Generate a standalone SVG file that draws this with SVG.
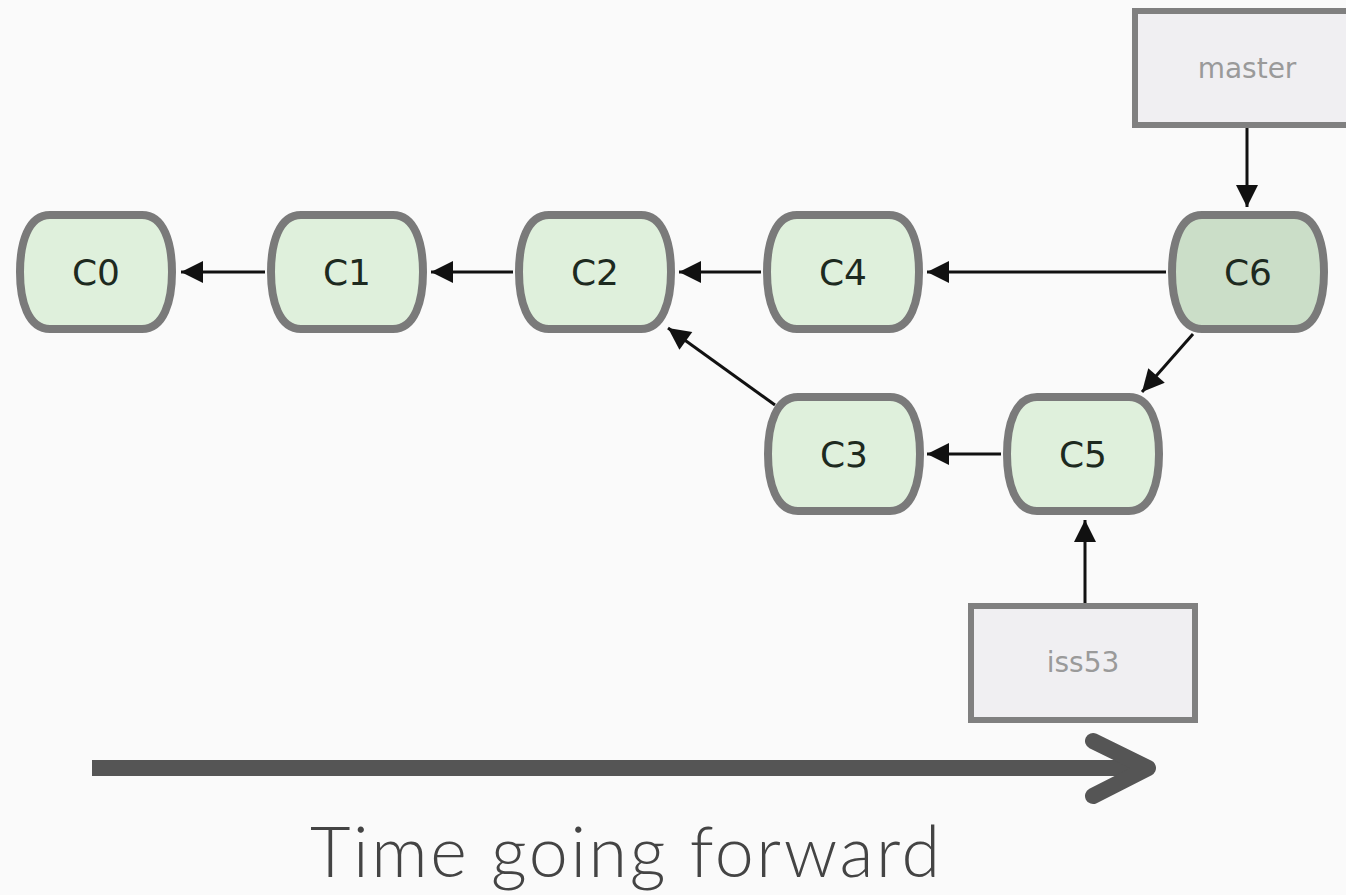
<svg xmlns="http://www.w3.org/2000/svg" width="1346" height="895" viewBox="0 0 1346 895">
<style>
.commit{fill:#dff0dc;stroke:#7a7a7a;stroke-width:8}
.head{fill:#cbdec8}
.clabel{font-family:"DejaVu Sans",sans-serif;font-size:36px;fill:#1d2a1f;text-anchor:middle}
.branch{fill:#f0eff2;stroke:#808080;stroke-width:6}
.blabel{font-family:"DejaVu Sans",sans-serif;font-size:28px;fill:#9a9a9a;text-anchor:middle}
.edge{stroke:#111;stroke-width:3;fill:none;marker-end:url(#ah)}
.time{stroke:#555;stroke-width:16;fill:none;stroke-linecap:round;stroke-linejoin:round}
.tlabel{font-family:"Lato","Open Sans",sans-serif;font-weight:300;font-size:70px;fill:#444}
</style>
<defs>
<path id="barrel" d="M30 0 H122 C144 0 152 28 152 57 C152 86 144 114 122 114 H30 C8 114 0 86 0 57 C0 28 8 0 30 0 Z"/>
<marker id="ah" viewBox="0 0 10 10" refX="10" refY="5" markerWidth="30" markerHeight="22" markerUnits="userSpaceOnUse" orient="auto">
<path d="M0 0 L10 5 L0 10 Z" fill="#111"/>
</marker>
</defs>
<rect width="1346" height="895" fill="#fafafa"/>
<g id="connectors">
<line class="edge" x1="265" y1="272" x2="181" y2="272"/>
<line class="edge" x1="513" y1="272" x2="431" y2="272"/>
<line class="edge" x1="761" y1="272" x2="679" y2="272"/>
<line class="edge" x1="1166" y1="272" x2="927" y2="272"/>
<line class="edge" x1="1001" y1="454" x2="927" y2="454"/>
<line class="edge" x1="775" y1="405" x2="668" y2="328"/>
<line class="edge" x1="1193" y1="334" x2="1142" y2="392"/>
<line class="edge" x1="1247" y1="128" x2="1247" y2="207"/>
<line class="edge" x1="1085" y1="603" x2="1085" y2="520"/>
</g>
<g id="C0"><use href="#barrel" class="commit" transform="translate(20,215)"/><text class="clabel" x="96" y="285">C0</text></g>
<g id="C1"><use href="#barrel" class="commit" transform="translate(271,215)"/><text class="clabel" x="347" y="285">C1</text></g>
<g id="C2"><use href="#barrel" class="commit" transform="translate(519,215)"/><text class="clabel" x="595" y="285">C2</text></g>
<g id="C4"><use href="#barrel" class="commit" transform="translate(767,215)"/><text class="clabel" x="843" y="285">C4</text></g>
<g id="C6"><use href="#barrel" class="commit head" transform="translate(1172,215)"/><text class="clabel" x="1248" y="285">C6</text></g>
<g id="C3"><use href="#barrel" class="commit" transform="translate(768,397)"/><text class="clabel" x="844" y="467">C3</text></g>
<g id="C5"><use href="#barrel" class="commit" transform="translate(1007,397)"/><text class="clabel" x="1083" y="467">C5</text></g>
<g id="master"><rect class="branch" x="1135" y="11" width="230" height="114"/><text class="blabel" x="1247" y="78">master</text></g>
<g id="iss53"><rect class="branch" x="971" y="606" width="224" height="114"/><text class="blabel" x="1083" y="672">iss53</text></g>
<g id="timeline">
<line class="time" x1="92" y1="768" x2="1146" y2="768" style="stroke-linecap:butt"/>
<polyline class="time" points="1093,741 1148,768 1093,796"/>
<text class="tlabel" x="310" y="877" textLength="630" lengthAdjust="spacing">Time going forward</text>
</g>
</svg>
